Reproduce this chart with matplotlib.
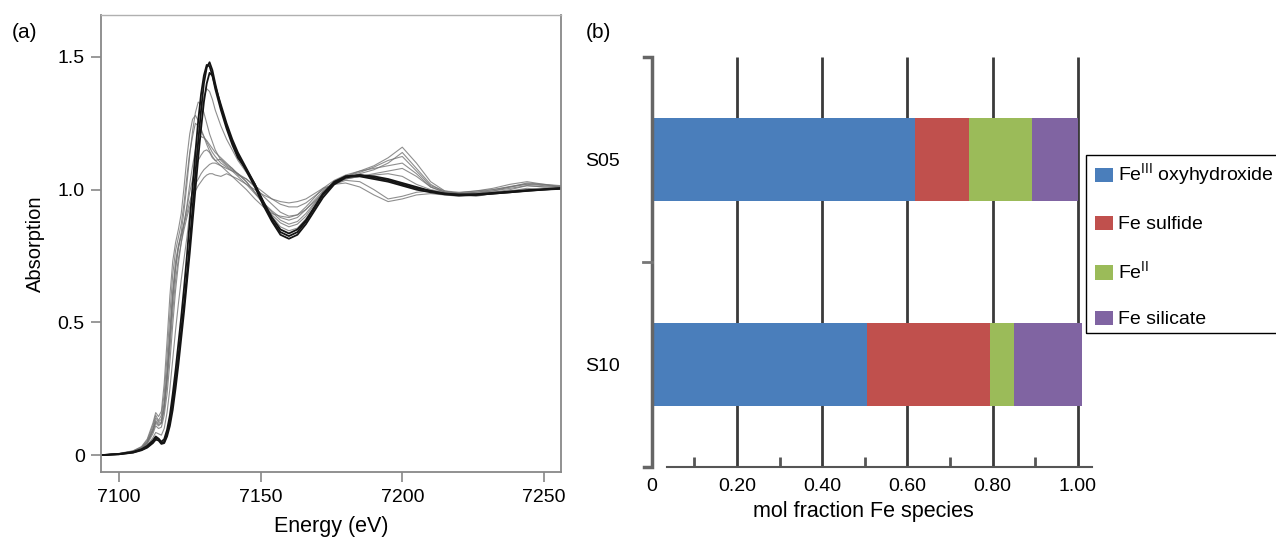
import numpy as np
import matplotlib
matplotlib.use("Agg")
import matplotlib.pyplot as plt
from matplotlib.patches import Rectangle

plt.rcParams['font.family'] = ['Liberation Sans', 'DejaVu Sans']
plt.rcParams['mathtext.fontset'] = 'custom'
plt.rcParams['mathtext.rm'] = 'Liberation Sans'

# ---- panel (a): XANES spectra ----
energy = [7094, 7100, 7105, 7108, 7110, 7112, 7113, 7114, 7115, 7116,
          7117, 7118, 7119, 7120, 7121, 7122, 7123, 7124, 7125, 7126,
          7127, 7128, 7129, 7130, 7131, 7132, 7133, 7134, 7136, 7138,
          7140, 7142, 7145, 7148, 7151, 7154, 7157, 7160, 7163, 7166,
          7169, 7172, 7176, 7180, 7185, 7190, 7195, 7200, 7205, 7210,
          7215, 7220, 7226, 7232, 7238, 7244, 7250, 7256]

black1 = [0.000, 0.003, 0.010, 0.020, 0.030, 0.050, 0.065, 0.060, 0.045, 0.050,
          0.080, 0.130, 0.200, 0.280, 0.370, 0.470, 0.570, 0.680, 0.800, 0.930,
          1.060, 1.180, 1.300, 1.400, 1.460, 1.480, 1.450, 1.400, 1.310, 1.240,
          1.180, 1.130, 1.070, 1.010, 0.940, 0.880, 0.830, 0.815, 0.830, 0.870,
          0.920, 0.970, 1.020, 1.045, 1.055, 1.050, 1.040, 1.025, 1.010, 0.995,
          0.985, 0.980, 0.980, 0.985, 0.990, 0.995, 1.000, 1.005]
black2 = [0.000, 0.004, 0.012, 0.022, 0.035, 0.055, 0.070, 0.062, 0.050, 0.060,
          0.095, 0.150, 0.230, 0.320, 0.420, 0.520, 0.630, 0.750, 0.880, 1.010,
          1.140, 1.260, 1.360, 1.430, 1.470, 1.465, 1.430, 1.380, 1.300, 1.230,
          1.170, 1.120, 1.075, 1.020, 0.950, 0.885, 0.840, 0.825, 0.840, 0.880,
          0.930, 0.980, 1.025, 1.050, 1.055, 1.045, 1.035, 1.020, 1.005, 0.995,
          0.985, 0.982, 0.983, 0.988, 0.993, 0.998, 1.002, 1.006]
black3 = [0.000, 0.003, 0.009, 0.018, 0.028, 0.045, 0.058, 0.055, 0.042, 0.045,
          0.070, 0.110, 0.170, 0.250, 0.340, 0.440, 0.540, 0.650, 0.760, 0.880,
          1.000, 1.120, 1.230, 1.330, 1.400, 1.440, 1.430, 1.390, 1.320, 1.250,
          1.190, 1.140, 1.080, 1.020, 0.955, 0.895, 0.850, 0.835, 0.850, 0.885,
          0.935, 0.985, 1.030, 1.050, 1.050, 1.040, 1.030, 1.015, 1.000, 0.990,
          0.982, 0.978, 0.980, 0.985, 0.990, 0.996, 1.000, 1.003]

grey1 = [0.000, 0.005, 0.015, 0.030, 0.055, 0.110, 0.150, 0.130, 0.150, 0.230,
         0.370, 0.530, 0.680, 0.770, 0.820, 0.870, 0.950, 1.050, 1.140, 1.200,
         1.250, 1.240, 1.220, 1.200, 1.180, 1.160, 1.140, 1.125, 1.100, 1.085,
         1.070, 1.050, 1.020, 0.985, 0.950, 0.920, 0.895, 0.885, 0.895, 0.925,
         0.960, 0.995, 1.025, 1.045, 1.060, 1.075, 1.100, 1.140, 1.080, 1.020,
         0.990, 0.985, 0.990, 0.995, 1.010, 1.020, 1.015, 1.010]
grey2 = [0.000, 0.004, 0.012, 0.025, 0.045, 0.090, 0.120, 0.110, 0.120, 0.180,
         0.290, 0.430, 0.580, 0.700, 0.780, 0.840, 0.920, 1.020, 1.130, 1.220,
         1.290, 1.330, 1.320, 1.290, 1.250, 1.210, 1.180, 1.150, 1.110, 1.090,
         1.075, 1.060, 1.030, 0.990, 0.945, 0.905, 0.875, 0.860, 0.870, 0.900,
         0.945, 0.990, 1.030, 1.050, 1.070, 1.090, 1.120, 1.160, 1.100, 1.030,
         0.995, 0.985, 0.985, 0.995, 1.005, 1.015, 1.010, 1.008]
grey3 = [0.000, 0.005, 0.014, 0.028, 0.050, 0.100, 0.140, 0.125, 0.135, 0.200,
         0.320, 0.470, 0.620, 0.730, 0.790, 0.830, 0.870, 0.910, 0.955, 0.990,
         1.020, 1.040, 1.060, 1.075, 1.085, 1.095, 1.100, 1.100, 1.090, 1.080,
         1.070, 1.060, 1.040, 1.015, 0.990, 0.965, 0.945, 0.935, 0.935, 0.950,
         0.975, 1.000, 1.025, 1.040, 1.050, 1.060, 1.070, 1.080, 1.050, 1.010,
         0.990, 0.985, 0.990, 1.000, 1.010, 1.025, 1.020, 1.015]
grey4 = [0.000, 0.004, 0.012, 0.024, 0.042, 0.080, 0.110, 0.100, 0.105, 0.150,
         0.230, 0.350, 0.490, 0.620, 0.720, 0.800, 0.870, 0.940, 1.020, 1.090,
         1.150, 1.180, 1.200, 1.195, 1.185, 1.170, 1.155, 1.140, 1.120, 1.100,
         1.080, 1.060, 1.030, 0.990, 0.950, 0.915, 0.885, 0.870, 0.880, 0.910,
         0.950, 0.990, 1.020, 1.035, 1.030, 1.000, 0.965, 0.975, 0.990, 0.995,
         0.985, 0.980, 0.975, 0.985, 0.995, 1.005, 1.000, 1.002]
grey5 = [0.000, 0.004, 0.011, 0.022, 0.036, 0.065, 0.085, 0.080, 0.075, 0.100,
         0.160, 0.250, 0.360, 0.470, 0.570, 0.660, 0.740, 0.820, 0.910, 1.000,
         1.100, 1.200, 1.290, 1.350, 1.380, 1.370, 1.340, 1.300, 1.240, 1.190,
         1.150, 1.110, 1.065, 1.015, 0.955, 0.900, 0.860, 0.845, 0.855, 0.890,
         0.935, 0.980, 1.020, 1.040, 1.050, 1.055, 1.060, 1.050, 1.020, 1.000,
         0.990, 0.985, 0.985, 0.990, 0.995, 1.000, 1.003, 1.005]
grey6 = [0.000, 0.005, 0.014, 0.027, 0.048, 0.095, 0.130, 0.120, 0.125, 0.185,
         0.300, 0.450, 0.600, 0.710, 0.780, 0.825, 0.875, 0.930, 0.990, 1.040,
         1.080, 1.110, 1.130, 1.145, 1.150, 1.140, 1.120, 1.110, 1.115, 1.095,
         1.080, 1.055, 1.040, 1.010, 0.975, 0.945, 0.915, 0.900, 0.905, 0.925,
         0.955, 0.985, 1.020, 1.050, 1.065, 1.085, 1.110, 1.125, 1.070, 1.015,
         0.995, 0.990, 0.995, 1.005, 1.020, 1.030, 1.020, 1.012]
grey7 = [0.000, 0.006, 0.016, 0.032, 0.060, 0.120, 0.160, 0.145, 0.165, 0.270,
         0.430, 0.600, 0.730, 0.800, 0.850, 0.910, 1.010, 1.120, 1.210, 1.265,
         1.280, 1.260, 1.230, 1.200, 1.170, 1.145, 1.125, 1.110, 1.090, 1.070,
         1.050, 1.030, 1.000, 0.965, 0.935, 0.910, 0.900, 0.895, 0.905, 0.935,
         0.970, 1.005, 1.035, 1.055, 1.070, 1.080, 1.090, 1.100, 1.060, 1.010,
         0.990, 0.988, 0.995, 1.000, 1.012, 1.022, 1.018, 1.010]
grey8 = [0.000, 0.005, 0.013, 0.026, 0.046, 0.090, 0.125, 0.115, 0.120, 0.170,
         0.270, 0.400, 0.540, 0.660, 0.740, 0.800, 0.850, 0.895, 0.935, 0.965,
         0.995, 1.015, 1.030, 1.045, 1.055, 1.060, 1.060, 1.055, 1.050, 1.060,
         1.050, 1.040, 1.020, 1.000, 0.980, 0.965, 0.955, 0.950, 0.955, 0.965,
         0.985, 1.005, 1.020, 1.025, 1.010, 0.980, 0.955, 0.965, 0.980, 0.985,
         0.980, 0.975, 0.980, 0.990, 1.000, 1.015, 1.010, 1.008]

grey_curves = [grey1, grey2, grey3, grey4, grey5, grey6, grey7, grey8]
black_curves = [black1, black2, black3]

# ---- panel (b): linear combination fits ----
samples = ["S05", "S10"]
species = ["Fe$^{\\mathrm{III}}$ oxyhydroxide", "Fe sulfide", "Fe$^{\\mathrm{II}}$", "Fe silicate"]
fractions = {
    "S05": [0.617, 0.127, 0.148, 0.108],
    "S10": [0.505, 0.288, 0.057, 0.160],
}
colors = ["#4a7ebb", "#c0504d", "#9bbb59", "#8064a2"]
xticks_b = [0, 0.2, 0.4, 0.6, 0.8, 1.0]
xticklabels_b = ["0", "0.20", "0.40", "0.60", "0.80", "1.00"]

W, H = 1276, 541
fig = plt.figure(figsize=(W / 100, H / 100), dpi=100)

# panel a
ax1 = fig.add_axes([101.3 / W, 1 - 472.3 / H, 459.4 / W, 457.3 / H])
for c in grey_curves:
    ax1.plot(energy, c, color='0.45', lw=0.8, alpha=0.8)
for c in black_curves:
    ax1.plot(energy, c, color='0.08', lw=1.3)
ax1.set_xlim(7093.8, 7255.9)
ax1.set_ylim(-0.065, 1.658)
ax1.set_xticks([7100, 7150, 7200, 7250])
ax1.set_yticks([0, 0.5, 1.0, 1.5])
ax1.set_yticklabels(["0", "0.5", "1.0", "1.5"])
for s in ['left', 'bottom', 'right']:
    ax1.spines[s].set_color('#888888')
    ax1.spines[s].set_linewidth(1.3)
ax1.spines['top'].set_color('#b0b0b0')
ax1.spines['top'].set_linewidth(1.0)
ax1.tick_params(length=7, width=1.2, color='#888888', labelsize=14, pad=5)
ax1.set_xlabel("Energy (eV)", fontsize=15.5, labelpad=7)
ax1.set_ylabel("Absorption", fontsize=14.5, labelpad=9)

# panel b
x0b, x1b = 651.7, 1092.0
ax2 = fig.add_axes([x0b / W, 1 - 467.3 / H, (x1b - x0b) / W, 410.3 / H])
ax2.set_xlim(0, (x1b - x0b) / 426.0)
ax2.set_ylim(-0.5, 1.5)
for sp in ax2.spines.values():
    sp.set_visible(False)

ypos = [1, 0]
for i in range(len(species)):
    for yy, s in zip(ypos, samples):
        left = sum(fractions[s][:i])
        ax2.barh(yy, fractions[s][i], left=left, height=0.405, color=colors[i],
                 zorder=2, label=species[i] if s == "S05" else None)

ax2.vlines([0.2, 0.4, 0.6, 0.8, 1.0], -0.5, 1.5, color='#3a3a3a', lw=2, zorder=1)
ax2.vlines([0.1, 0.3, 0.5, 0.7, 0.9], -0.5, -0.45, color='#555555', lw=2, zorder=1)
ax2.plot([0.036, 1.034], [-0.5, -0.5], color='#555555', lw=1.5, clip_on=False, zorder=3)
ax2.plot([-0.018, 0, 0, -0.018], [1.5, 1.5, -0.5, -0.5], color='#666666', lw=2.5,
         clip_on=False, zorder=3, solid_joinstyle='miter')
ax2.plot([-0.02, 0], [0.5, 0.5], color='#777777', lw=2, clip_on=False, zorder=3)

ax2.set_xticks(xticks_b)
ax2.set_xticklabels(xticklabels_b)
ax2.set_yticks(ypos)
ax2.set_yticklabels(samples)
ax2.tick_params(axis='x', length=0, labelsize=14, pad=8)
ax2.tick_params(axis='y', length=0, labelsize=14, pad=23)
fig.text(863 / W, 1 - 512 / H, "mol fraction Fe species", fontsize=15.5,
         ha='center', va='center')

# legend with a box running off the right edge
fig.patches.append(Rectangle((1086 / W, 1 - 333 / H), 210 / W, 178 / H,
                             transform=fig.transFigure, fill=False,
                             edgecolor='black', lw=1.0))
fig.legend(*ax2.get_legend_handles_labels(), loc='upper left',
           bbox_to_anchor=(1086 / W, 1 - 153 / H), bbox_transform=fig.transFigure,
           frameon=False, fontsize=14, borderpad=0.45, borderaxespad=0,
           handlelength=0.95, handleheight=0.75, handletextpad=0.25, labelspacing=1.4)

fig.text(12 / W, 1 - 32 / H, "(a)", fontsize=15, va='center')
fig.text(586 / W, 1 - 32 / H, "(b)", fontsize=15, va='center')

fig.savefig("out.png", dpi=100)
